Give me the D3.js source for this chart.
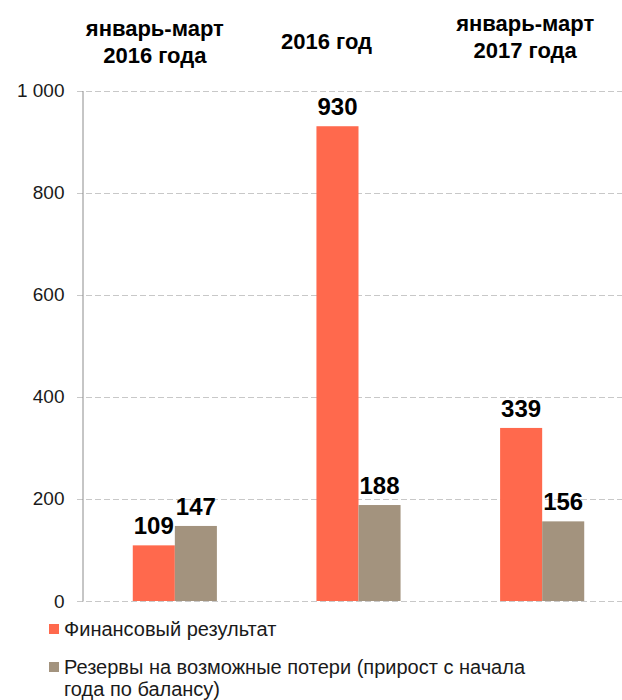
<!DOCTYPE html>
<html>
<head>
<meta charset="utf-8">
<script src="https://cdn.jsdelivr.net/npm/d3@7"></script>
<style>
  body { margin: 0; background: #fff; }
  svg { display: block; font-family: Arial, "Liberation Sans", sans-serif; }
</style>
</head>
<body>
<svg id="chart"></svg>
<script>
// data
const categories = ["jm2016", "y2016", "jm2017"];
const categoryLabels = [["январь-март", "2016 года"], ["2016 год"], ["январь-март", "2017 года"]];
const seriesNames = ["Финансовый результат", "Резервы на возможные потери (прирост с начала года по балансу)"];
const finResult = [109, 930, 339];
const reserves = [147, 188, 156];
const yTicks = [0, 200, 400, 600, 800, 1000];

const width = 622, height = 700;
const colors = ["#FF694D", "#A3937E"];

// header label placement (offset from group centre, first baseline)
const headerLayout = [
  { dx: -20, y: 36 },
  { dx: -32, y: 49 },
  { dx: -17, y: 31 }
];

const svg = d3.select("#chart")
  .attr("width", width)
  .attr("height", height);

const x = d3.scaleBand()
  .domain(categories)
  .range([83, 634])
  .paddingInner(0.542)
  .paddingOuter(0.271);

const xInner = d3.scaleBand()
  .domain([0, 1])
  .range([0, x.bandwidth()]);

const y = d3.scaleLinear()
  .domain([0, 1000])
  .range([601, 90.5]);

const fmt = d3.formatLocale({ decimal: ",", thousands: " ", grouping: [3], currency: ["", ""] }).format(",");

// gridlines
svg.append("g")
  .selectAll("line")
  .data(yTicks)
  .enter()
  .append("line")
  .attr("x1", 77)
  .attr("x2", width)
  .attr("y1", d => Math.round(y(d)) + 0.5)
  .attr("y2", d => Math.round(y(d)) + 0.5)
  .attr("stroke", "#c8c8c8")
  .attr("stroke-width", 1)
  .attr("stroke-dasharray", "6,3");

// y axis
const yAxis = d3.axisLeft(y)
  .tickValues(yTicks)
  .tickSize(0)
  .tickPadding(18)
  .tickFormat(fmt);

const gy = svg.append("g")
  .attr("transform", "translate(82.5,0)")
  .call(yAxis);
gy.select(".domain").attr("stroke", "#8c8c8c");
gy.selectAll("text")
  .attr("font-size", 19)
  .attr("fill", "#1a1a1a")
  .attr("font-family", "Arial, 'Liberation Sans', sans-serif");

// bars
const series = [finResult, reserves];
const groups = svg.append("g")
  .selectAll("g")
  .data(categories)
  .enter()
  .append("g")
  .attr("transform", d => `translate(${x(d)},0)`);

series.forEach((vals, s) => {
  groups.append("rect")
    .attr("x", xInner(s))
    .attr("width", xInner.bandwidth())
    .attr("y", (d, i) => y(vals[i]))
    .attr("height", (d, i) => y(0) - y(vals[i]))
    .attr("fill", colors[s]);

  groups.append("text")
    .attr("x", xInner(s) + xInner.bandwidth() / 2)
    .attr("y", (d, i) => y(vals[i]) - 11)
    .attr("text-anchor", "middle")
    .attr("font-size", 24)
    .attr("font-weight", "bold")
    .attr("fill", "#000")
    .text((d, i) => vals[i]);
});

// header labels above the groups
categories.forEach((c, i) => {
  const cx = x(c) + x.bandwidth() / 2 + headerLayout[i].dx;
  const t = svg.append("text")
    .attr("text-anchor", "middle")
    .attr("font-size", 22)
    .attr("font-weight", "bold")
    .attr("fill", "#000");
  categoryLabels[i].forEach((line, j) => {
    t.append("tspan")
      .attr("x", cx)
      .attr("y", headerLayout[i].y + j * 27)
      .text(line);
  });
});

// legend
const legendLines = [["Финансовый результат"], ["Резервы на возможные потери (прирост с начала", "года по балансу)"]];
const legendY = [624, 662];
legendLines.forEach((lines, i) => {
  svg.append("rect")
    .attr("x", 49)
    .attr("y", legendY[i])
    .attr("width", 10)
    .attr("height", 10)
    .attr("fill", colors[i]);
  const t = svg.append("text")
    .attr("font-size", 20)
    .attr("fill", "#1a1a1a");
  lines.forEach((line, j) => {
    t.append("tspan")
      .attr("x", 64)
      .attr("y", legendY[i] + 12 + j * 22)
      .text(line);
  });
});
</script>
</body>
</html>
